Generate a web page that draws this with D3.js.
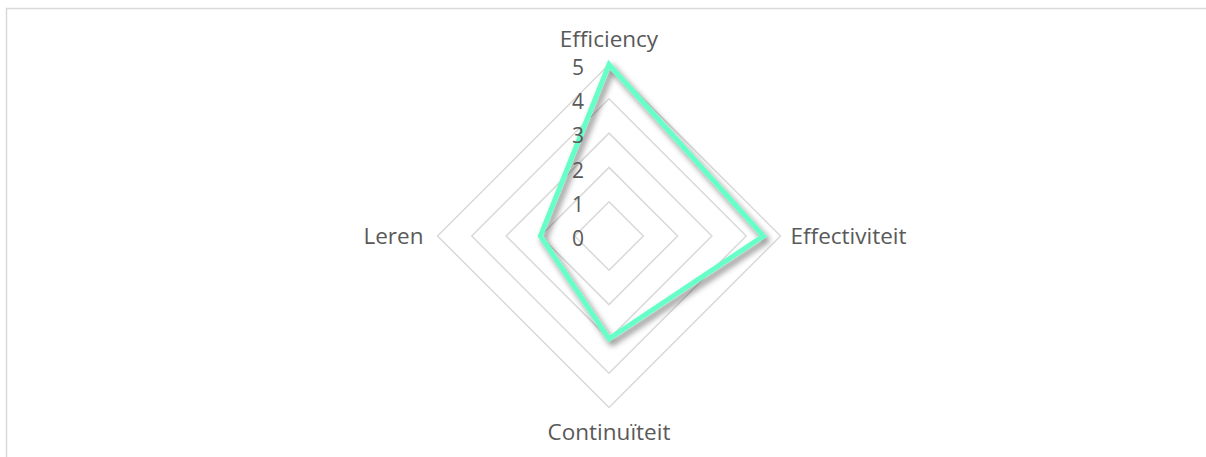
<!DOCTYPE html>
<html>
<head>
<meta charset="utf-8">
<script src="https://cdn.jsdelivr.net/npm/d3@7"></script>
<style>
  body { margin: 0; background: #fff; }
  svg { display: block; font-family: "Open Sans", "Noto Sans", sans-serif; }
</style>
</head>
<body>
<div id="chart"></div>
<script>
// axes of the radar, clockwise from the top
var axes = ["Efficiency", "Effectiviteit", "Continuïteit", "Leren"];
var values = [5, 4.5, 3, 2];
var ticks = [0, 1, 2, 3, 4, 5];

var width = 1206, height = 457;
var cx = 609, cy = 236, radius = 171.5;

var svg = d3.select("#chart").append("svg")
    .attr("width", width)
    .attr("height", height);

// chart frame (only top and left edge show inside the window)
svg.append("rect")
    .attr("x", 6.5).attr("y", 8.5)
    .attr("width", width + 10).attr("height", height + 10)
    .attr("fill", "none")
    .attr("stroke", "#d9d9d9")
    .attr("stroke-width", 1.5);

var defs = svg.append("defs");
var shadow = defs.append("filter").attr("id", "shadow")
    .attr("x", "-20%").attr("y", "-20%").attr("width", "140%").attr("height", "140%");
shadow.append("feGaussianBlur").attr("in", "SourceAlpha").attr("stdDeviation", 3).attr("result", "blur");
shadow.append("feOffset").attr("in", "blur").attr("dx", 3).attr("dy", 4).attr("result", "off");
shadow.append("feComponentTransfer").attr("in", "off").attr("result", "soft")
    .append("feFuncA").attr("type", "linear").attr("slope", 0.5);
var merge = shadow.append("feMerge");
merge.append("feMergeNode").attr("in", "soft");
merge.append("feMergeNode").attr("in", "SourceGraphic");

var r = d3.scaleLinear().domain([0, 5]).range([0, radius]);
var angle = d3.scalePoint().domain(axes).range([0, 2 * Math.PI * (axes.length - 1) / axes.length]);

function pt(axis, v) {
    var a = angle(axis);
    return [cx + r(v) * Math.sin(a), cy - r(v) * Math.cos(a)];
}

var g = svg.append("g");

// grid rings
g.selectAll(".ring")
    .data(ticks.filter(function (t) { return t > 0; }))
    .enter().append("polygon")
    .attr("class", "ring")
    .attr("points", function (t) {
        return axes.map(function (a) { return pt(a, t).join(","); }).join(" ");
    })
    .attr("fill", "none")
    .attr("stroke", "#d9d9d9")
    .attr("stroke-width", 1.5);

// data polygon
var line = d3.line().curve(d3.curveLinearClosed);
g.append("path")
    .datum(axes.map(function (a, i) { return pt(a, values[i]); }))
    .attr("d", line)
    .attr("fill", "none")
    .attr("stroke", "#66ffc8")
    .attr("stroke-width", 5)
    .attr("stroke-linejoin", "miter")
    .attr("filter", "url(#shadow)");

// tick labels
g.selectAll(".tick")
    .data(ticks)
    .enter().append("text")
    .attr("class", "tick")
    .attr("x", cx - 25)
    .attr("y", function (t) { return cy - r(t) + 3; })
    .attr("dy", "0.35em")
    .attr("text-anchor", "end")
    .attr("fill", "#595959")
    .attr("font-size", 21)
    .text(function (t) { return t; });

// axis labels
var labelPos = {
    "Efficiency": { dx: 0, dy: -25, anchor: "middle" },
    "Effectiviteit": { dx: 10, dy: 0, anchor: "start" },
    "Continuïteit": { dx: 0, dy: 25, anchor: "middle" },
    "Leren": { dx: -14, dy: 0, anchor: "end" }
};
g.selectAll(".axis-label")
    .data(axes)
    .enter().append("text")
    .attr("class", "axis-label")
    .attr("x", function (a) { return pt(a, 5)[0] + labelPos[a].dx; })
    .attr("y", function (a) { return pt(a, 5)[1] + labelPos[a].dy; })
    .attr("dy", "0.35em")
    .attr("text-anchor", function (a) { return labelPos[a].anchor; })
    .attr("fill", "#595959")
    .attr("font-size", 22.5)
    .text(function (a) { return a; });
</script>
</body>
</html>
